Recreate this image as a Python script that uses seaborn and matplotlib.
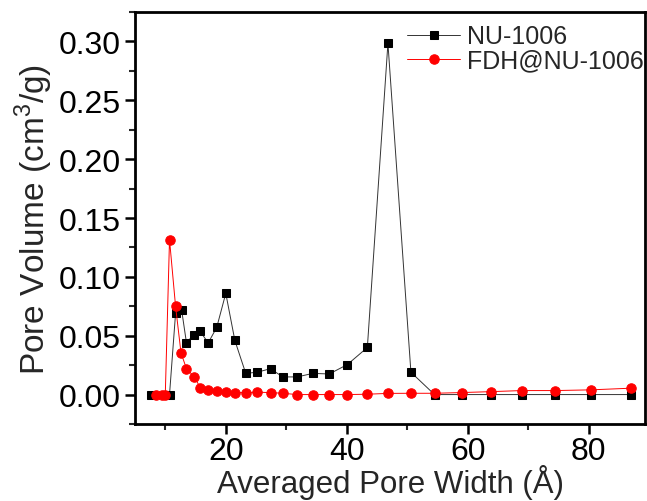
import numpy as np
import pandas as pd
import seaborn as sns
import matplotlib
matplotlib.use("Agg")
import matplotlib.pyplot as plt
from matplotlib.ticker import MultipleLocator, FormatStrFormatter

# ---- data ----
nu_x = [7.7, 10.7, 11.7, 12.7, 13.5, 14.7, 15.7, 17.1, 18.5, 20.0, 21.5, 23.3,
        25.2, 27.4, 29.4, 31.8, 34.4, 37.1, 40.1, 43.4, 46.8, 50.6, 54.5, 59.0,
        63.9, 68.9, 74.4, 80.3, 86.9]
nu_y = [0.000, 0.000, 0.069, 0.072, 0.044, 0.051, 0.054, 0.044, 0.057, 0.086,
        0.046, 0.018, 0.019, 0.022, 0.015, 0.015, 0.018, 0.0175, 0.0255, 0.040,
        0.2985, 0.019, 0.000, 0.000, 0.000, 0.000, 0.000, 0.000, 0.000]

fdh_x = [8.5, 9.4, 10.0, 10.7, 11.7, 12.6, 13.5, 14.8, 15.8, 17.1, 18.6, 20.0,
         21.6, 23.4, 25.2, 27.4, 29.4, 31.8, 34.4, 37.1, 40.1, 43.4, 46.8, 50.6,
         54.5, 59.0, 63.9, 68.9, 74.4, 80.3, 86.9]
fdh_y = [0.000, 0.000, 0.000, 0.1316, 0.075, 0.0354, 0.022, 0.015, 0.0057,
         0.0042, 0.0034, 0.002, 0.0017, 0.0017, 0.002, 0.0017, 0.0011, 0.000,
         0.000, 0.000, 0.000, 0.0003, 0.001, 0.0011, 0.0011, 0.0017, 0.0025,
         0.0034, 0.0034, 0.004, 0.0054]

labels = ["NU-1006", "FDH@NU-1006"]
x_label = "Averaged Pore Width (Å)"
y_label = "Pore Volume (cm$^3$/g)"

sns.set_theme(style="ticks")
plt.rcParams['font.family'] = ['Liberation Sans', 'DejaVu Sans']
plt.rcParams['mathtext.fontset'] = 'custom'
plt.rcParams['mathtext.rm'] = 'Liberation Sans'

fig = plt.figure(figsize=(6.47, 5.02), dpi=100)
ax = fig.add_axes([0.2087, 0.1534, 0.7883, 0.8206])

df_nu = pd.DataFrame({"x": nu_x, "y": nu_y})
df_fdh = pd.DataFrame({"x": fdh_x, "y": fdh_y})

sns.lineplot(data=df_nu, x="x", y="y", ax=ax, sort=False, color="#333333",
             linewidth=0.7, marker="s", markersize=6, markeredgecolor="black",
             markerfacecolor="black", label=labels[0])
sns.lineplot(data=df_fdh, x="x", y="y", ax=ax, sort=False, color="red",
             linewidth=0.7, marker="o", markersize=6.8, markeredgecolor="red",
             markerfacecolor="red", label=labels[1])

ax.set_xlim(5, 89.3)
ax.set_ylim(-0.025, 0.325)
ax.xaxis.set_major_locator(MultipleLocator(20))
ax.xaxis.set_minor_locator(MultipleLocator(10))
ax.yaxis.set_major_locator(MultipleLocator(0.05))
ax.yaxis.set_minor_locator(MultipleLocator(0.025))
ax.yaxis.set_major_formatter(FormatStrFormatter('%.2f'))

ax.tick_params(which='major', direction='out', length=7, width=1.8,
               labelsize=23, colors='black', pad=3)
ax.tick_params(axis='x', which='major', pad=2)
ax.tick_params(which='minor', direction='out', length=4, width=1.5)
ax.tick_params(top=False, right=False, which='both')

for s in ax.spines.values():
    s.set_visible(True)
    s.set_linewidth(2.0)
    s.set_color('black')

ax.set_xlabel(x_label, fontsize=22.5, labelpad=-2)
ax.set_ylabel(y_label, fontsize=24, labelpad=3)

leg = ax.legend(loc='upper right', bbox_to_anchor=(0.998, 0.97),
                frameon=False, fontsize=18,
                handlelength=2.1, labelspacing=0.0, handletextpad=0.3,
                borderaxespad=0.0, borderpad=0.0)
for h in leg.get_lines():
    h.set_linewidth(0.7)

fig.savefig("out.png", dpi=100)
